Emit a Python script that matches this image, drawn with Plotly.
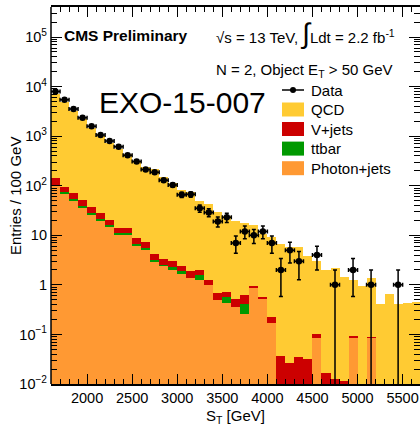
import numpy as np
import plotly.graph_objects as go

# ---- data (100 GeV bins from 1600 to 5700 GeV) ----
bin_centers = [1650, 1750, 1850, 1950, 2050, 2150, 2250, 2350, 2450, 2550,
               2650, 2750, 2850, 2950, 3050, 3150, 3250, 3350, 3450, 3550,
               3650, 3750, 3850, 3950, 4050, 4150, 4250, 4350, 4450, 4550,
               4650, 4750, 4850, 4950, 5050, 5150, 5250, 5350, 5450, 5550, 5650]

photon_jets = [100, 70.5, 50.8, 36.6, 26.4, 20.2, 15.1, 10.2, 10.2, 6.3,
               5.0, 2.98, 2.44, 1.96, 1.68, 1.37, 1.27, 1.0, 0.50, 0.43,
               0.35, 0.256, 0.85, 0.52, 0.173, 0, 0, 0, 0, 0.0857,
               0, 0, 0, 0.0857, 0, 0.0857, 0, 0, 0, 0, 0]
ttbar = [4, 4.5, 4.2, 2.3, 2.2, 1.4, 0.9, 0.7, 0.7, 0.4,
         0.6, 0.25, 0.12, 0.34, 0.19, 0, 0.31, 0, 0, 0.15,
         0, 0.154, 0, 0, 0, 0, 0, 0, 0, 0,
         0, 0, 0, 0, 0, 0, 0, 0, 0, 0, 0]
v_jets = [36, 20, 15.5, 11.9, 8.0, 6.1, 4.2, 3.0, 2.9, 2.0,
          1.6, 1.05, 0.82, 0.78, 0.49, 0.50, 0.38, 0.27, 0.20, 0.15,
          0.17, 0.22, 0.11, 0.05, 0.056, 0.0365, 0.0267, 0.0353, 0.0317, 0.016,
          0.0167, 0.0124, 0.0114, 0.007, 0, 0.004, 0, 0, 0, 0, 0]
qcd = [6860, 4755, 3130, 2129, 1433, 987, 725, 526, 424, 289,
       233, 211, 143.6, 112.9, 80.6, 73.1, 48.0, 42.2, 29.3, 24.3,
       18.5, 16.9, 15.0, 9.93, 8.97, 6.66, 5.67, 5.77, 3.87, 3.0,
       1.98, 2.19, 1.44, 1.18, 0.96, 1.31, 0.41, 0.65, 0.41, 0.44, 0.45]

data_x = [1650, 1750, 1850, 1950, 2050, 2150, 2250, 2350, 2450, 2550,
          2650, 2750, 2850, 2950, 3050, 3150, 3250, 3350, 3450, 3550,
          3650, 3750, 3850, 3950, 4050, 4150, 4250, 4350, 4550, 4750,
          4950, 5150, 5450]
data_y = [7950, 5420, 3515, 2340, 1590, 1058, 800, 612, 410, 310,
          213, 188, 129, 104, 66, 67, 35, 29, 19, 23,
          7, 12, 10, 12, 7, 2, 5, 3, 4, 1,
          2, 1, 1]

x_tick_vals = [2000, 2500, 3000, 3500, 4000, 4500, 5000, 5500]
y_tick_vals = [1e-2, 1e-1, 1, 10, 1e2, 1e3, 1e4, 1e5]
y_tick_text = ["10<sup>\u22122</sup>", "10<sup>\u22121</sup>", "1", "10",
               "10<sup>2</sup>", "10<sup>3</sup>", "10<sup>4</sup>", "10<sup>5</sup>"]

COL = {"QCD": "#FFCB33", "V+jets": "#CC0000", "ttbar": "#009900", "Photon+jets": "#FF9933"}
FONT = "Liberation Sans, Arial, Helvetica, sans-serif"

fig = go.Figure()
for name, vals in [("Photon+jets", photon_jets), ("ttbar", ttbar),
                   ("V+jets", v_jets), ("QCD", qcd)]:
    fig.add_trace(go.Bar(x=bin_centers, y=vals, width=100, name=name,
                         marker=dict(color=COL[name], line=dict(width=0)),
                         showlegend=False))

dy = np.array(data_y, dtype=float)
err_up = np.sqrt(dy)
err_dn = np.minimum(np.sqrt(dy), dy * 0.9999)
fig.add_trace(go.Scatter(
    x=data_x, y=data_y, mode="markers", name="Data", showlegend=False,
    marker=dict(color="black", size=6.5, symbol="circle"),
    error_y=dict(type="data", symmetric=False, array=err_up, arrayminus=err_dn,
                 color="black", thickness=1.5, width=2),
    error_x=dict(type="constant", value=50, color="black", thickness=1.5, width=2),
))

L, T_, W, H = 51, 7, 369, 377


def px(x):
    return (x - L) / W


def py(y):
    return (T_ + H - y) / H


shapes = []
annotations = []
shapes.append(dict(type="line", xref="paper", yref="paper", x0=0, x1=0, y0=0, y1=1,
                   line=dict(color="black", width=1.5)))

# legend (manual)
rows = [("Data", 90), ("QCD", 109.5), ("V+jets", 129), ("ttbar", 148.6), ("Photon+jets", 168.2)]
for name, cy in rows:
    if name == "Data":
        shapes.append(dict(type="line", xref="paper", yref="paper",
                           x0=px(282), x1=px(304), y0=py(cy), y1=py(cy),
                           line=dict(color="black", width=1.5)))
        shapes.append(dict(type="circle", xref="paper", yref="paper",
                           x0=px(290), x1=px(296), y0=py(cy + 3), y1=py(cy - 3),
                           fillcolor="black", line=dict(color="black", width=0)))
    else:
        shapes.append(dict(type="rect", xref="paper", yref="paper",
                           x0=px(282), x1=px(304), y0=py(cy + 7), y1=py(cy - 7),
                           fillcolor=COL[name], line=dict(width=0)))
    annotations.append(dict(text=name, xref="paper", yref="paper", x=px(309), y=py(cy),
                            xanchor="left", yanchor="middle", showarrow=False,
                            font=dict(family=FONT, size=15, color="black")))

annotations += [
    dict(text="<b>CMS Preliminary</b>", xref="paper", yref="paper", x=px(62), y=py(35),
         xanchor="left", yanchor="middle", showarrow=False,
         font=dict(family=FONT, size=15.5, color="black")),
    dict(text="\u221as = 13 TeV, <span style='font-size:28px'>\u222b</span>Ldt = 2.2 fb<sup>-1</sup>",
         xref="paper", yref="paper", x=px(214), y=py(33),
         xanchor="left", yanchor="middle", showarrow=False,
         font=dict(family=FONT, size=15, color="black")),
    dict(text="N = 2, Object E<sub>T</sub> > 50 GeV", xref="paper", yref="paper",
         x=px(214), y=py(70), xanchor="left", yanchor="middle", showarrow=False,
         font=dict(family=FONT, size=15, color="black")),
    dict(text="EXO-15-007", xref="paper", yref="paper", x=px(97), y=py(102),
         xanchor="left", yanchor="middle", showarrow=False,
         font=dict(family=FONT, size=30, color="black")),
    dict(text="Entries / 100 GeV", xref="paper", yref="paper", x=px(15), y=py(196),
         xanchor="center", yanchor="middle", textangle=-90, showarrow=False,
         font=dict(family=FONT, size=15, color="black")),
    dict(text="S<sub>T</sub> [GeV]", xref="paper", yref="paper", x=px(235), y=py(416),
         xanchor="center", yanchor="middle", showarrow=False,
         font=dict(family=FONT, size=15, color="black")),
]

y_minor = [m * 10.0 ** e for e in range(-2, 6) for m in range(2, 10)]

fig.update_layout(
    width=420, height=426,
    margin=dict(l=L, r=0, t=T_, b=426 - T_ - H, pad=0),
    paper_bgcolor="white", plot_bgcolor="white",
    barmode="stack", bargap=0,
    showlegend=False,
    font=dict(family=FONT, size=14.5, color="black"),
    shapes=shapes, annotations=annotations,
    xaxis=dict(range=[1600, 1600 + 369 / 0.09016], tickmode="array", tickvals=x_tick_vals,
               ticks="inside", ticklen=10, tickwidth=1, tickcolor="black",
               showline=True, linecolor="black", linewidth=1.5, mirror="ticks",
               showgrid=False, zeroline=False,
               tickfont=dict(family=FONT, size=14.5, color="black"),
               minor=dict(ticks="inside", ticklen=5, tickwidth=1, tickcolor="black",
                          tick0=1600, dtick=100, showgrid=False)),
    yaxis=dict(type="log", range=[-2, 5.606], tickmode="array", tickvals=y_tick_vals,
               ticktext=y_tick_text, ticks="inside", ticklen=11, tickwidth=1,
               tickcolor="black", showline=False, mirror="ticks",
               showgrid=False, zeroline=False, ticklabelstandoff=3,
               tickfont=dict(family=FONT, size=14.5, color="black"),
               minor=dict(ticks="inside", ticklen=6, tickwidth=1, tickcolor="black",
                          tickmode="array", tickvals=y_minor, showgrid=False)),
)

fig.write_html("out.html", config={"displayModeBar": False},
               post_script="document.body.style.margin='0';document.body.style.padding='0';")
